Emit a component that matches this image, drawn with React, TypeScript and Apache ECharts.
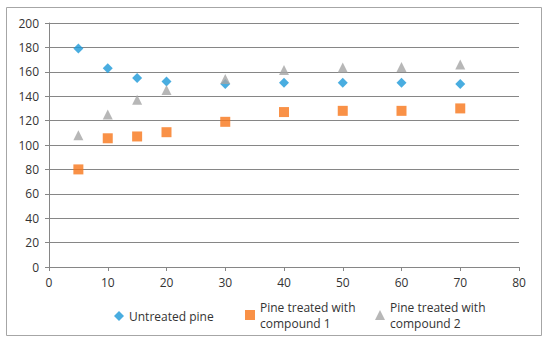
import React, { useEffect, useRef } from "react";
import * as echarts from "echarts";

const xValues = [5, 10, 15, 20, 30, 40, 50, 60, 70];
const untreated = [179, 163, 155, 152, 150, 151, 151, 151, 150];
const compound1 = [80, 105.5, 107, 110.5, 119, 127, 128, 128, 130];
const compound2 = [108, 125, 137, 145, 154, 161.5, 163.5, 164, 166];
const seriesNames = ["Untreated pine", "Pine treated with compound 1", "Pine treated with compound 2"];
const legendLabels = ["Untreated pine", "Pine treated with\ncompound 1", "Pine treated with\ncompound 2"];

const FONT = "Open Sans";
const TEXT = "#333333";

export default function App() {
  const ref = useRef<HTMLDivElement>(null);
  useEffect(() => {
    const chart = echarts.init(ref.current!, null, { renderer: "svg" });
    const pair = (ys: number[]) => xValues.map((x, i) => [x, ys[i]]);
    const legendCommon = (name: string, label: string, left: number) => ({
      data: [name],
      left,
      top: 294,
      orient: "horizontal",
      itemWidth: 10,
      itemHeight: 10,
      itemGap: 4,
      formatter: () => label,
      textStyle: { fontFamily: FONT, fontSize: 12, color: TEXT, lineHeight: 16 },
    });
    chart.setOption({
      animation: false,
      backgroundColor: "#ffffff",
      textStyle: { fontFamily: FONT },
      graphic: [
        {
          type: "rect",
          shape: { x: 6.5, y: 7.5, width: 535, height: 328 },
          style: { fill: "none", stroke: "#a6a6a6", lineWidth: 1 },
          silent: true,
        },
      ],
      grid: { left: 49, right: 31, top: 23, bottom: 78 },
      xAxis: {
        type: "value",
        min: 0,
        max: 80,
        interval: 10,
        splitLine: { show: false },
        axisLine: { show: true, lineStyle: { color: "#868686" } },
        axisTick: { show: true, length: 4, lineStyle: { color: "#868686" } },
        axisLabel: { fontFamily: FONT, fontSize: 12, color: TEXT, margin: 9 },
      },
      yAxis: {
        type: "value",
        min: 0,
        max: 200,
        interval: 20,
        splitLine: { show: true, lineStyle: { color: "#868686", width: 1 } },
        axisLine: { show: true, lineStyle: { color: "#868686" } },
        axisTick: { show: true, length: 4, lineStyle: { color: "#868686" } },
        axisLabel: { fontFamily: FONT, fontSize: 12, color: TEXT, margin: 10 },
      },
      legend: [
        { ...legendCommon(seriesNames[0], legendLabels[0], 109), top: 303 },
        legendCommon(seriesNames[1], legendLabels[1], 240),
        legendCommon(seriesNames[2], legendLabels[2], 370),
      ],
      series: [
        {
          name: seriesNames[0],
          type: "scatter",
          symbol: "diamond",
          symbolSize: 10,
          itemStyle: { color: "#1b98d8" },
          data: pair(untreated),
        },
        {
          name: seriesNames[1],
          type: "scatter",
          symbol: "rect",
          symbolSize: 10,
          itemStyle: { color: "#f87519" },
          data: pair(compound1),
        },
        {
          name: seriesNames[2],
          type: "scatter",
          symbol: "triangle",
          symbolSize: 10,
          itemStyle: { color: "#a5a5a5" },
          data: pair(compound2),
        },
      ],
    });
    return () => chart.dispose();
  }, []);
  return (
    <div
      ref={ref}
      style={{ position: "fixed", left: 0, top: 0, width: 550, height: 345, background: "#fff" }}
    />
  );
}
